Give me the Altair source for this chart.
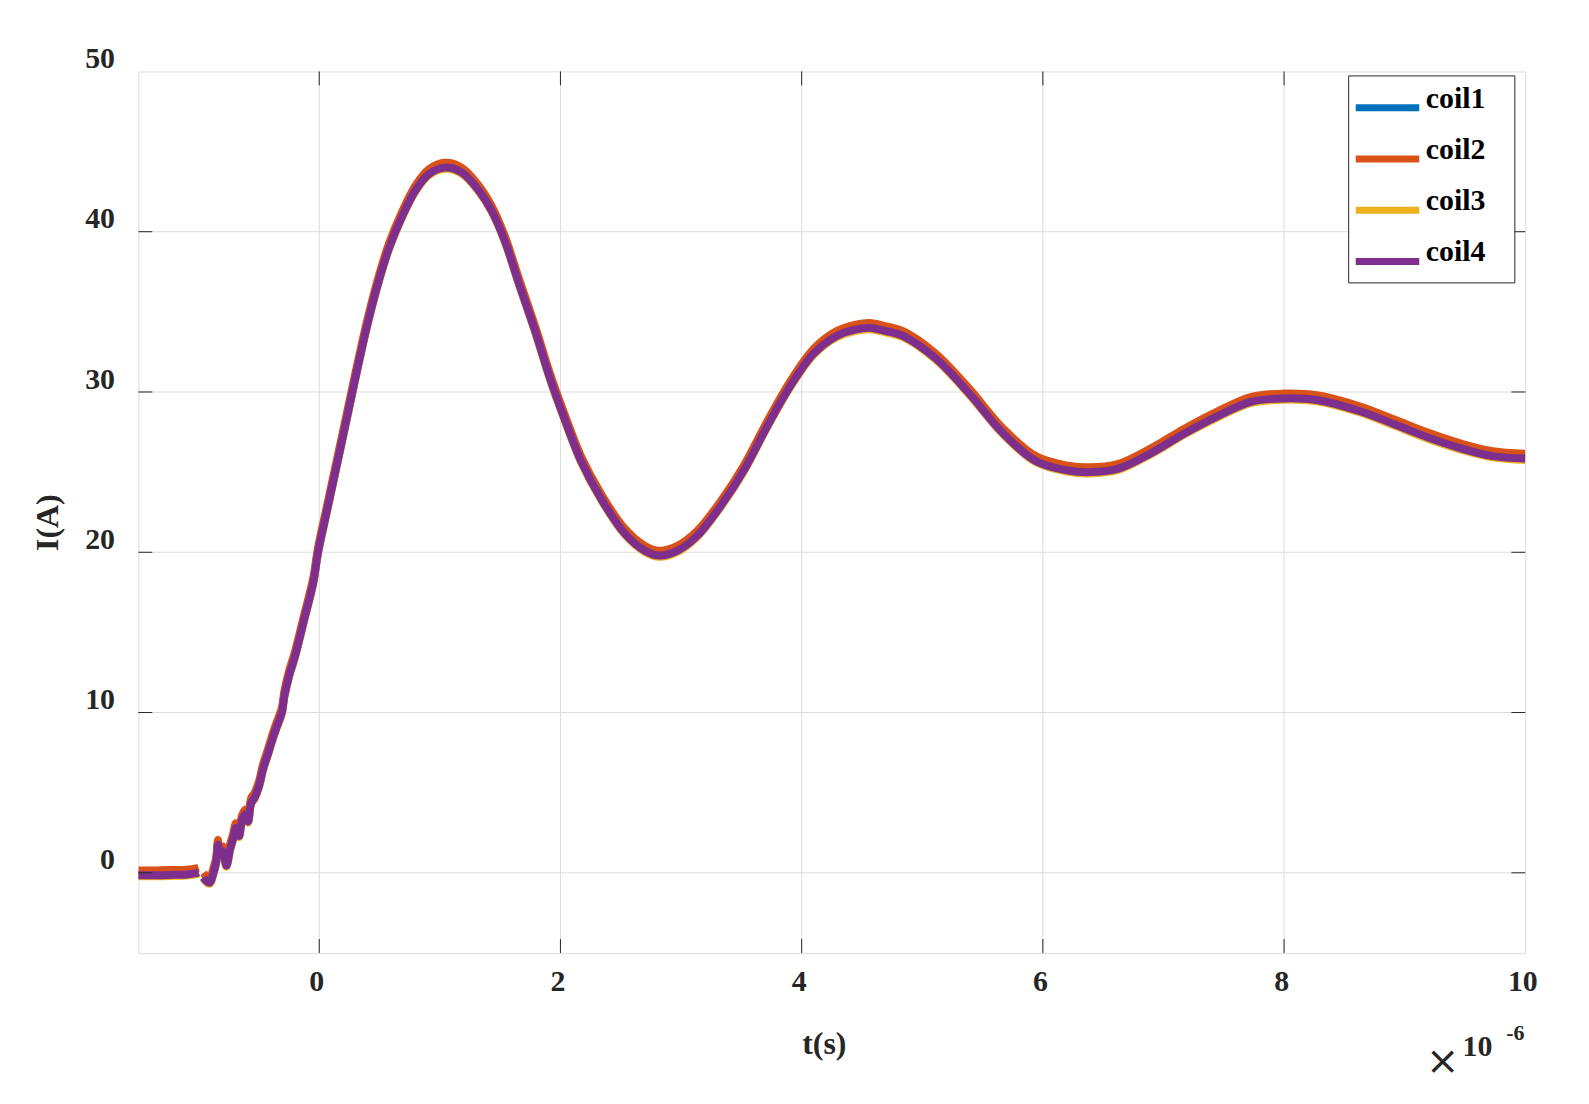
import altair as alt
import pandas as pd

# time in microseconds (axis shows x10^-6 s)
t_us = [
    -1.50, -1.35, -1.20, -1.10, -1.02, -1.00, -0.98, -0.96, -0.93, -0.905,
    -0.88, -0.855, -0.84, -0.83, -0.80, -0.77, -0.74, -0.715, -0.69, -0.665,
    -0.64, -0.61, -0.59, -0.565, -0.535, -0.50, -0.465, -0.43, -0.385, -0.35,
    -0.31, -0.29, -0.25, -0.205, -0.125, -0.05, -0.01, 0.06, 0.14, 0.20,
    0.275, 0.335, 0.405, 0.50, 0.58, 0.69, 0.80, 0.91, 1.045, 1.18,
    1.32, 1.43, 1.54, 1.65, 1.79, 1.92, 2.03, 2.17, 2.34, 2.53,
    2.70, 2.82, 2.97, 3.13, 3.33, 3.52, 3.71, 3.90, 4.10, 4.29,
    4.45, 4.56, 4.70, 4.84, 5.11, 5.39, 5.66, 5.94, 6.21, 6.38,
    6.62, 6.90, 7.17, 7.45, 7.73, 8.00, 8.27, 8.63, 8.91, 9.18,
    9.46, 9.73, 10.00,
]

coil1 = [
    -0.13, -0.13, -0.10, -0.08, 0.00, 0.04, None, -0.28, -0.53, -0.58,
    -0.06, 0.66, 1.77, 1.17, 1.37, 0.47, 1.47, 2.12, 2.82, 2.32,
    3.32, 3.67, 3.22, 4.37, 4.72, 5.42, 6.52, 7.32, 8.42, 9.17,
    10.02, 11.02, 12.32, 13.42, 15.82, 18.12, 20.02, 22.47, 25.27, 27.37,
    30.02, 32.12, 34.42, 37.12, 39.02, 41.02, 42.62, 43.62, 44.02, 43.72,
    42.62, 41.32, 39.42, 36.92, 33.82, 30.72, 28.42, 25.72, 23.32, 21.22,
    20.12, 19.82, 20.12, 21.02, 22.92, 25.12, 27.82, 30.32, 32.42, 33.52,
    33.92, 34.02, 33.82, 33.52, 32.12, 29.92, 27.52, 25.72, 25.12, 25.02,
    25.22, 26.22, 27.42, 28.52, 29.42, 29.62, 29.52, 28.82, 28.02, 27.22,
    26.52, 26.02, 25.87,
]

coil2 = [
    0.15, 0.15, 0.18, 0.20, 0.28, 0.32, None, 0.00, -0.25, -0.30,
    0.22, 0.95, 2.05, 1.45, 1.65, 0.75, 1.75, 2.40, 3.10, 2.60,
    3.60, 3.95, 3.50, 4.65, 5.00, 5.70, 6.80, 7.60, 8.70, 9.45,
    10.30, 11.30, 12.60, 13.70, 16.10, 18.40, 20.30, 22.75, 25.55, 27.65,
    30.30, 32.40, 34.70, 37.40, 39.30, 41.30, 42.90, 43.90, 44.30, 44.00,
    42.90, 41.60, 39.70, 37.20, 34.10, 31.00, 28.70, 26.00, 23.60, 21.50,
    20.40, 20.10, 20.40, 21.30, 23.20, 25.40, 28.10, 30.60, 32.70, 33.80,
    34.20, 34.30, 34.10, 33.80, 32.40, 30.20, 27.80, 26.00, 25.40, 25.30,
    25.50, 26.50, 27.70, 28.80, 29.70, 29.90, 29.80, 29.10, 28.30, 27.50,
    26.80, 26.30, 26.15,
]

coil3 = [
    -0.22, -0.22, -0.19, -0.17, -0.09, -0.05, None, -0.37, -0.62, -0.67,
    -0.15, 0.57, 1.68, 1.08, 1.28, 0.38, 1.38, 2.03, 2.73, 2.23,
    3.23, 3.58, 3.13, 4.28, 4.63, 5.33, 6.43, 7.23, 8.33, 9.08,
    9.93, 10.93, 12.23, 13.33, 15.73, 18.03, 19.93, 22.38, 25.18, 27.28,
    29.93, 32.03, 34.33, 37.03, 38.93, 40.93, 42.53, 43.53, 43.92, 43.62,
    42.53, 41.23, 39.33, 36.83, 33.73, 30.63, 28.33, 25.63, 23.23, 21.13,
    20.02, 19.72, 20.02, 20.93, 22.83, 25.03, 27.73, 30.23, 32.33, 33.42,
    33.82, 33.92, 33.72, 33.42, 32.03, 29.83, 27.43, 25.63, 25.02, 24.92,
    25.12, 26.13, 27.33, 28.42, 29.32, 29.52, 29.42, 28.72, 27.92, 27.12,
    26.42, 25.92, 25.76,
]

coil4 = [
    -0.15, -0.15, -0.12, -0.10, -0.02, 0.02, None, -0.30, -0.55, -0.60,
    -0.08, 0.64, 1.75, 1.15, 1.35, 0.45, 1.45, 2.10, 2.80, 2.30,
    3.30, 3.65, 3.20, 4.35, 4.70, 5.40, 6.50, 7.30, 8.40, 9.15,
    10.00, 11.00, 12.30, 13.40, 15.80, 18.10, 20.00, 22.45, 25.25, 27.35,
    30.00, 32.10, 34.40, 37.10, 39.00, 41.00, 42.60, 43.60, 44.00, 43.70,
    42.60, 41.30, 39.40, 36.90, 33.80, 30.70, 28.40, 25.70, 23.30, 21.20,
    20.10, 19.80, 20.10, 21.00, 22.90, 25.10, 27.80, 30.30, 32.40, 33.50,
    33.90, 34.00, 33.80, 33.50, 32.10, 29.90, 27.50, 25.70, 25.10, 25.00,
    25.20, 26.20, 27.40, 28.50, 29.40, 29.60, 29.50, 28.80, 28.00, 27.20,
    26.50, 26.00, 25.85,
]

series_names = ["coil1", "coil2", "coil3", "coil4"]
series_colors = ["#0072BD", "#D95319", "#EDB120", "#7E2F8E"]
x_tick_values = [0, 2, 4, 6, 8, 10]
y_tick_values = [0, 10, 20, 30, 40, 50]
x_inner_ticks = [0, 2, 4, 6, 8]
y_inner_ticks = [0, 10, 20, 30, 40]

W, H = 1394, 886
TICK = 14
FONT = "Liberation Serif"
AXC = "#262626"
GRIDC = "#dcdcdc"

frames = []
for name, vals in zip(series_names, [coil1, coil2, coil3, coil4]):
    frames.append(pd.DataFrame({"t": t_us, "I": vals, "coil": name}))
df = pd.concat(frames, ignore_index=True)

xscale = alt.Scale(domain=[-1.5, 10], nice=False, zero=False)
yscale = alt.Scale(domain=[-5, 50], nice=False, zero=False)

xt = pd.DataFrame({"v": x_inner_ticks})
yt = pd.DataFrame({"v": y_inner_ticks})

xgrid = alt.Chart(xt).mark_rule(color=GRIDC, strokeWidth=1).encode(
    x=alt.X("v:Q", scale=xscale))
ygrid = alt.Chart(yt).mark_rule(color=GRIDC, strokeWidth=1).encode(
    y=alt.Y("v:Q", scale=yscale))

# invisible, non-whitespace filler so the legend box gets its right margin
pad = "\u2800"

lines = alt.Chart(df).mark_line(
    strokeWidth=8, invalid="break-paths-show-domains", clip=True,
    interpolate="catmull-rom"
).encode(
    x=alt.X("t:Q", scale=xscale,
            axis=alt.Axis(values=x_tick_values, format="d", title="t(s)", grid=False,
                          ticks=False, domain=False, labelFont=FONT,
                          labelFontWeight="bold", labelFontSize=30, labelColor=AXC,
                          labelPadding=14, labelOffset=-3, labelFlush=False,
                          titleFont=FONT, titleFontWeight="bold", titleFontSize=32,
                          titleColor=AXC, titleX=689, titleY=91, titleBaseline="middle",
                          titleAlign="center")),
    y=alt.Y("I:Q", scale=yscale,
            axis=alt.Axis(values=y_tick_values, format="d", title="I(A)", grid=False,
                          ticks=False, domain=False, labelFont=FONT,
                          labelFontWeight="bold", labelFontSize=30, labelColor=AXC,
                          labelPadding=24, labelOffset=-13, labelFlush=False,
                          titleFont=FONT, titleFontWeight="bold", titleFontSize=32,
                          titleColor=AXC, titleAngle=270, titleX=-91, titleY=453,
                          titleBaseline="middle", titleAlign="center")),
    color=alt.Color("coil:N",
                    scale=alt.Scale(domain=series_names, range=series_colors),
                    legend=alt.Legend(orient="none", legendX=1216, legendY=4, title=None,
                                      symbolType="M-1.47,0H1.47", symbolSize=1884,
                                      symbolStrokeWidth=7, symbolOffset=7,
                                      labelFont=FONT,
                                      labelFontWeight="bold", labelFontSize=30,
                                      labelColor="black", labelBaseline="alphabetic",
                                      labelOffset=13, strokeColor=AXC, fillColor="white",
                                      padding=7, rowPadding=11.5, labelLimit=300,
                                      labelExpr="datum.label + '" + pad + "'")),
)

xtick_bottom = alt.Chart(xt).mark_rule(color=AXC, strokeWidth=1).encode(
    x=alt.X("v:Q", scale=xscale), y=alt.value(H), y2=alt.value(H - TICK))
xtick_top = alt.Chart(xt).mark_rule(color=AXC, strokeWidth=1).encode(
    x=alt.X("v:Q", scale=xscale), y=alt.value(0), y2=alt.value(TICK))
ytick_left = alt.Chart(yt).mark_rule(color=AXC, strokeWidth=1).encode(
    y=alt.Y("v:Q", scale=yscale), x=alt.value(0), x2=alt.value(TICK))
ytick_right = alt.Chart(yt).mark_rule(color=AXC, strokeWidth=1).encode(
    y=alt.Y("v:Q", scale=yscale), x=alt.value(W), x2=alt.value(W - TICK))

one = pd.DataFrame({"k": [0]})
times = alt.Chart(one).mark_text(text="\u00d7", font="DejaVu Sans", fontSize=40,
                                  color=AXC, align="center", baseline="middle").encode(
    x=alt.value(1311), y=alt.value(996))
ten = alt.Chart(one).mark_text(text="10", font=FONT, fontWeight="bold", fontSize=30,
                               color=AXC, align="center", baseline="middle").encode(
    x=alt.value(1346), y=alt.value(981))
exp = alt.Chart(one).mark_text(text="-6", font=FONT, fontWeight="bold", fontSize=22,
                               color=AXC, align="center", baseline="middle").encode(
    x=alt.value(1384), y=alt.value(966))

chart = alt.layer(
    xgrid, ygrid, lines, xtick_bottom, xtick_top, ytick_left, ytick_right, times, ten, exp
).properties(
    width=W, height=H,
    autosize=alt.AutoSizeParams(type="none"),
    padding={"left": 131, "top": 61, "right": 56, "bottom": 140},
).configure_view(stroke=AXC, strokeWidth=1).configure(background="white")

chart.save("out.html", embed_options={"renderer": "svg", "actions": False})
